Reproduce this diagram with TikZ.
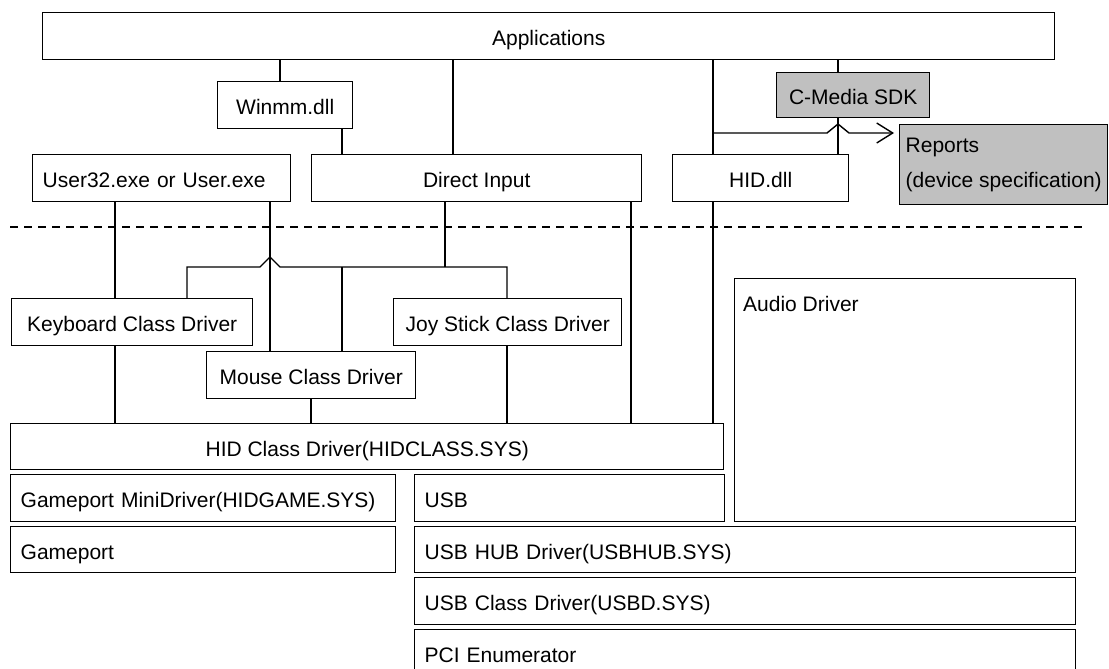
\documentclass[tikz,border=0pt]{standalone}
\usepackage{fontspec}
\setmainfont{Liberation Sans}
\usetikzlibrary{arrows.meta}
\definecolor{sdkgray}{RGB}{192,192,192}
\begin{document}
\begin{tikzpicture}[x=1pt,y=-1pt,
  base/.style={draw, line width=1.4pt, inner sep=0pt, anchor=north west, fill=white,
    font=\fontsize{21}{35}\selectfont},
  box/.style={base, text height=19pt, text depth=0pt},
  lbox/.style={box, align=left, inner xsep=10pt},
  gbox/.style={fill=sdkgray},
  wire/.style={line width=1.4pt},
  sep/.style={line width=1.4pt, dash pattern=on 8pt off 6pt}]
\clip (0,0) rectangle (1109,669);
% boxes
\node[box, minimum width=1012pt, minimum height=47pt] (apps) at (42,12) {Applications};
\node[box, minimum width=135pt, minimum height=47pt] (winmm) at (217,81) {Winmm.dll};
\node[box, gbox, minimum width=153pt, minimum height=45pt] (cmedia) at (776,72) {C-Media SDK};
\node[base, gbox, align=left, minimum width=208pt, minimum height=80pt] (reports) at (899,124) {Reports\\(device specification)};
\node[lbox, text width=238pt, minimum height=47pt] (user32) at (32,154) {User32.exe or User.exe};
\node[box, minimum width=330pt, minimum height=47pt] (di) at (311,154) {Direct Input};
\node[box, minimum width=176pt, minimum height=47pt] (hiddll) at (672,154) {HID.dll};
\node[box, minimum width=241pt, minimum height=47pt] (keyboard) at (11,298) {Keyboard Class Driver};
\node[box, minimum width=228pt, minimum height=47pt] (joy) at (393,298) {Joy Stick Class Driver};
\node[box, minimum width=209pt, minimum height=47pt] (mouse) at (206,351) {Mouse Class Driver};
\node[base, minimum width=341pt, minimum height=243pt,
  label={[anchor=north west, inner sep=0pt, xshift=9pt, yshift=-18pt, font=\fontsize{21}{25}\selectfont]north west:Audio Driver}] (audio) at (734,278) {};
\node[box, minimum width=713pt, minimum height=46pt] (hidclass) at (10,423) {HID Class Driver(HIDCLASS.SYS)};
\node[lbox, text width=365pt, minimum height=47pt] (gmini) at (10,474) {Gameport MiniDriver(HIDGAME.SYS)};
\node[lbox, text width=365pt, minimum height=46pt] (gport) at (10,526) {Gameport};
\node[lbox, text width=290pt, minimum height=47pt] (usb) at (414,474) {USB};
\node[lbox, text width=641pt, minimum height=46pt] (usbhub) at (414,526) {USB HUB Driver(USBHUB.SYS)};
\node[lbox, text width=641pt, minimum height=47pt] (usbclass) at (414,577) {USB Class Driver(USBD.SYS)};
\node[lbox, text width=641pt, minimum height=47pt] (pci) at (414,629) {PCI Enumerator};
% helper coordinates
\foreach \v in {115,187,270,280,311,342,445,453,507,631,713,838} \coordinate (v\v) at (\v,0);
\coordinate (h267) at (0,267);
\coordinate (h133) at (0,133);
\coordinate (dl) at (10,227);
\coordinate (dr) at (1083,227);
% separator
\draw[sep] (dl) -- (dr);
% connectors
\draw[wire] (apps.south -| v280) -- (winmm.north -| v280);
\draw[wire] (winmm.south -| v342) -- (di.north -| v342);
\draw[wire] (apps.south -| v453) -- (di.north -| v453);
\draw[wire] (apps.south -| v713) -- (hiddll.north -| v713);
\draw[wire] (apps.south -| v838) -- (cmedia.north -| v838);
\draw[wire] (cmedia.south -| v838) -- (hiddll.north -| v838);
\draw[wire, -{Straight Barb[length=16pt,width=20pt]}, shorten >=5pt]
  (v713 |- h133) -- (827,133) -- (838,124) -- (849,133) -- (reports.west |- h133);
\draw[wire] (user32.south -| v115) -- (keyboard.north -| v115);
\draw[wire] (keyboard.south -| v115) -- (hidclass.north -| v115);
\draw[wire] (user32.south -| v270) -- (mouse.north -| v270);
\draw[wire] (keyboard.north -| v187) -- (v187 |- h267) -- (260,267) -- (270,257) -- (280,267)
  -- (v507 |- h267) -- (joy.north -| v507);
\draw[wire] (di.south -| v445) -- (v445 |- h267);
\draw[wire] (v342 |- h267) -- (mouse.north -| v342);
\draw[wire] (mouse.south -| v311) -- (hidclass.north -| v311);
\draw[wire] (joy.south -| v507) -- (hidclass.north -| v507);
\draw[wire] (di.south -| v631) -- (hidclass.north -| v631);
\draw[wire] (hiddll.south -| v713) -- (hidclass.north -| v713);
\end{tikzpicture}
\end{document}
